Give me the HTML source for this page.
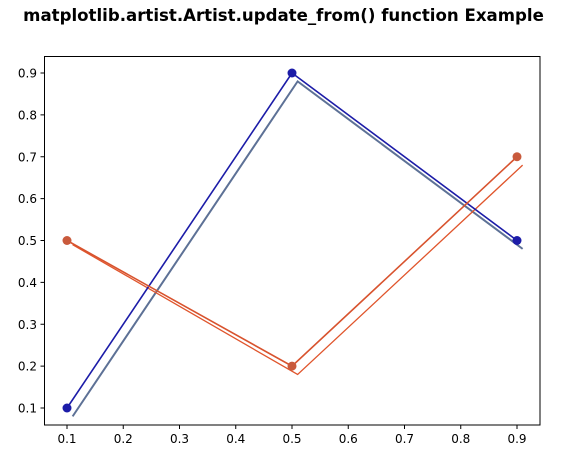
<!DOCTYPE html>
<html><head><meta charset="utf-8"><style>
html,body{margin:0;padding:0;background:#fff;}
svg{display:block;font-family:"DejaVu Sans","Liberation Sans",sans-serif;}
</style></head><body>
<svg id="chart" width="567" height="469" viewBox="0 0 567 469">
<text x="283.5" y="21" text-anchor="middle" font-size="16.6" font-weight="bold" fill="#000">matplotlib.artist.Artist.update_from() function Example</text>
<rect x="44.5" y="56.5" width="495.5" height="368.5" fill="#fff" stroke="#000" stroke-width="1"/>
<g id="series"></g>
<g id="xaxis"></g>
<g id="yaxis"></g>
</svg>
<script>
const xs = [0.1, 0.5, 0.9];
const blueY = [0.1, 0.9, 0.5];
const orangeY = [0.5, 0.2, 0.7];
const grayX = [0.11, 0.51, 0.91];
const grayY = [0.08, 0.88, 0.48];
const orange2X = [0.11, 0.51, 0.91];
const orange2Y = [0.49, 0.18, 0.68];
const xTicks = [0.1, 0.2, 0.3, 0.4, 0.5, 0.6, 0.7, 0.8, 0.9];
const yTicks = [0.1, 0.2, 0.3, 0.4, 0.5, 0.6, 0.7, 0.8, 0.9];

const NS = "http://www.w3.org/2000/svg";
function sx(v){ return 67 + (v - 0.1) * 562.5; }
function sy(v){ return 408 - (v - 0.1) * 418.75; }
function mk(tag, attrs, parent){
  const e = document.createElementNS(NS, tag);
  for (const k in attrs) e.setAttribute(k, attrs[k]);
  parent.appendChild(e);
  return e;
}
const series = document.getElementById('series');
function line(X, Y, color, w, name){
  const pts = X.map((x,i)=>sx(x)+','+sy(Y[i])).join(' ');
  const p = mk('polyline', {points: pts, fill: 'none', stroke: color, 'stroke-width': w, 'stroke-linejoin': 'miter'}, series);
  
  
}
function markers(X, Y, color, name){
  X.forEach((x,i)=>{
    const c = mk('circle', {cx: sx(x), cy: sy(Y[i]), r: 4.5, fill: color}, series);
    
    
  });
}
line(grayX, grayY, '#5d7196', 2, 'gray-line');
line(orange2X, orange2Y, '#e0552c', 1.3, 'orange-shifted-line');
line(xs, blueY, '#1c1ca8', 1.6, 'blue-line');
line(xs, orangeY, '#d8532e', 1.6, 'orange-line');
markers(xs, blueY, '#1c1ca8', 'blue-marker');
markers(xs, orangeY, '#c95a3c', 'orange-marker');

const xa = document.getElementById('xaxis');
xTicks.forEach(t=>{
  const x = sx(t);
  const l = mk('line', {x1: x, x2: x, y1: 425, y2: 429, stroke: '#000', 'stroke-width': 1}, xa);
  
  
  const tx = mk('text', {x: x, y: 443, 'text-anchor': 'middle', 'font-size': 12, fill: '#000'}, xa);
  tx.textContent = t.toFixed(1);
  
  
});
const ya = document.getElementById('yaxis');
yTicks.forEach(t=>{
  const y = sy(t);
  const l = mk('line', {x1: 40.5, x2: 44.5, y1: y, y2: y, stroke: '#000', 'stroke-width': 1}, ya);
  
  
  const tx = mk('text', {x: 37, y: y + 4.5, 'text-anchor': 'end', 'font-size': 12, fill: '#000'}, ya);
  tx.textContent = t.toFixed(1);
  
  
});
</script>
</body></html>
